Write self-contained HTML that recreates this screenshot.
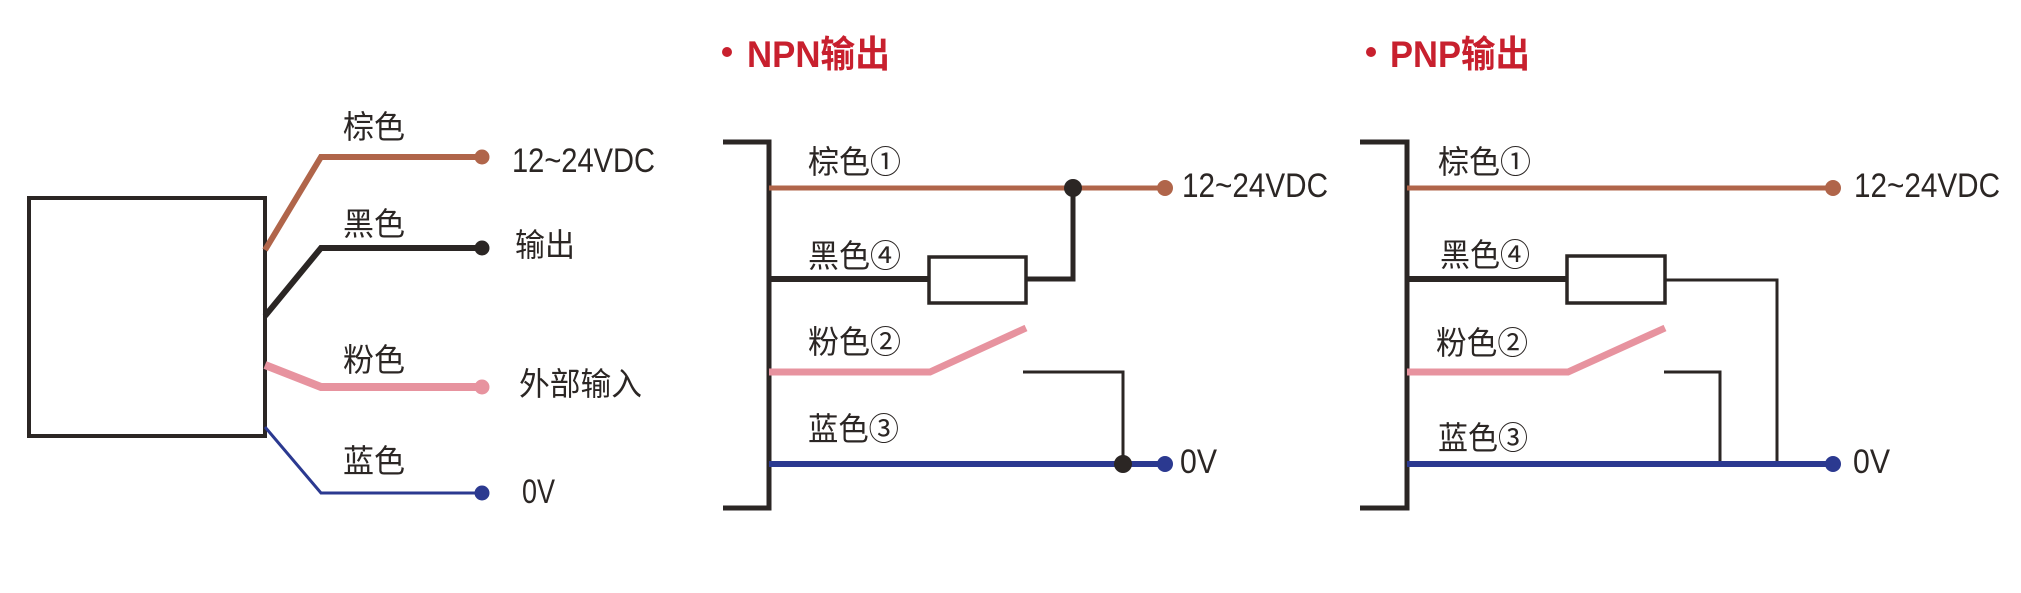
<!DOCTYPE html>
<html>
<head>
<meta charset="utf-8">
<style>
  html,body{margin:0;padding:0;background:#fff;}
  svg{display:block;}
  text{font-family:"Liberation Sans","Noto Sans CJK SC",sans-serif;fill:#2b2624;}
  .cj{font-size:32px;}
  .lt{font-size:34px;}
  .tt{font-size:37px;font-weight:bold;fill:#c8202e;}
</style>
</head>
<body>
<svg width="2021" height="593" viewBox="0 0 2021 593" xmlns="http://www.w3.org/2000/svg">
  <rect x="0" y="0" width="2021" height="593" fill="#fff"/>

  <!-- ============ LEFT DIAGRAM ============ -->
  <rect x="29" y="198" width="236" height="238" fill="#fff" stroke="#2b2624" stroke-width="4"/>
  <polyline points="265,250 321,157 482,157" fill="none" stroke="#b0654a" stroke-width="6"/>
  <circle cx="482" cy="157" r="7.5" fill="#b0654a"/>
  <polyline points="265,316 321,248 482,248" fill="none" stroke="#2b2624" stroke-width="6"/>
  <circle cx="482" cy="248" r="7.5" fill="#2b2624"/>
  <polyline points="265,365 321,387 482,387" fill="none" stroke="#e7939f" stroke-width="8"/>
  <circle cx="482" cy="387" r="7.5" fill="#e7939f"/>
  <polyline points="265,427 321,493 482,493" fill="none" stroke="#2b3990" stroke-width="3"/>
  <circle cx="482" cy="493" r="7.5" fill="#2b3990"/>

  <text class="cj" x="343" y="138" textLength="62" lengthAdjust="spacingAndGlyphs">棕色</text>
  <text class="cj" x="343" y="235" textLength="62" lengthAdjust="spacingAndGlyphs">黑色</text>
  <text class="cj" x="343" y="371" textLength="62" lengthAdjust="spacingAndGlyphs">粉色</text>
  <text class="cj" x="343" y="472" textLength="62" lengthAdjust="spacingAndGlyphs">蓝色</text>

  <text class="lt" x="512" y="172" textLength="143" lengthAdjust="spacingAndGlyphs">12~24VDC</text>
  <text class="cj" x="515" y="256" textLength="60" lengthAdjust="spacingAndGlyphs">输出</text>
  <text class="cj" x="519" y="395" textLength="123" lengthAdjust="spacingAndGlyphs">外部输入</text>
  <text class="lt" x="522" y="503" textLength="33" lengthAdjust="spacingAndGlyphs">0V</text>

  <!-- ============ NPN ============ -->
  <circle cx="727" cy="52" r="5" fill="#c8202e"/>
  <text class="tt" x="747" y="67" textLength="143" lengthAdjust="spacingAndGlyphs">NPN输出</text>

  <polyline points="723,142 769,142 769,508 723,508" fill="none" stroke="#2b2624" stroke-width="5"/>
  <!-- brown -->
  <line x1="769" y1="188" x2="1165" y2="188" stroke="#b0654a" stroke-width="5"/>
  <circle cx="1165" cy="188" r="8" fill="#b0654a"/>
  <!-- black + resistor -->
  <line x1="769" y1="279" x2="929" y2="279" stroke="#2b2624" stroke-width="6"/>
  <polyline points="1026,279 1073,279 1073,188" fill="none" stroke="#2b2624" stroke-width="5"/>
  <rect x="929" y="257" width="97" height="46" fill="#fff" stroke="#2b2624" stroke-width="3.5"/>
  <circle cx="1073" cy="188" r="9" fill="#2b2624"/>
  <!-- pink switch -->
  <polyline points="769,372 930,372 1026,328" fill="none" stroke="#e7939f" stroke-width="7"/>
  <polyline points="1023,372 1123,372 1123,464" fill="none" stroke="#2b2624" stroke-width="3"/>
  <!-- blue -->
  <line x1="769" y1="464" x2="1165" y2="464" stroke="#2b3990" stroke-width="6"/>
  <circle cx="1165" cy="464" r="8" fill="#2b3990"/>
  <circle cx="1123" cy="464" r="9" fill="#2b2624"/>

  <text class="cj" x="808" y="173" textLength="93" lengthAdjust="spacingAndGlyphs">棕色①</text>
  <text class="cj" x="808" y="267" textLength="93" lengthAdjust="spacingAndGlyphs">黑色④</text>
  <text class="cj" x="808" y="353" textLength="93" lengthAdjust="spacingAndGlyphs">粉色②</text>
  <text class="cj" x="808" y="440" textLength="91" lengthAdjust="spacingAndGlyphs">蓝色③</text>

  <text class="lt" x="1182" y="197" textLength="146" lengthAdjust="spacingAndGlyphs">12~24VDC</text>
  <text class="lt" x="1180" y="473" textLength="37" lengthAdjust="spacingAndGlyphs">0V</text>

  <!-- ============ PNP ============ -->
  <circle cx="1371" cy="52" r="5" fill="#c8202e"/>
  <text class="tt" x="1390" y="67" textLength="140" lengthAdjust="spacingAndGlyphs">PNP输出</text>

  <polyline points="1360,142 1407,142 1407,508 1360,508" fill="none" stroke="#2b2624" stroke-width="5"/>
  <!-- brown -->
  <line x1="1407" y1="188" x2="1833" y2="188" stroke="#b0654a" stroke-width="5"/>
  <circle cx="1833" cy="188" r="8" fill="#b0654a"/>
  <!-- black + resistor -->
  <line x1="1407" y1="279" x2="1567" y2="279" stroke="#2b2624" stroke-width="6"/>
  <polyline points="1665,280 1777,280 1777,464" fill="none" stroke="#2b2624" stroke-width="3"/>
  <rect x="1567" y="256" width="98" height="47" fill="#fff" stroke="#2b2624" stroke-width="3.5"/>
  <!-- pink switch -->
  <polyline points="1407,372 1568,372 1665,328" fill="none" stroke="#e7939f" stroke-width="7"/>
  <polyline points="1664,372 1720,372 1720,464" fill="none" stroke="#2b2624" stroke-width="3"/>
  <!-- blue -->
  <line x1="1407" y1="464" x2="1833" y2="464" stroke="#2b3990" stroke-width="6"/>
  <circle cx="1833" cy="464" r="8" fill="#2b3990"/>

  <text class="cj" x="1438" y="173" textLength="93" lengthAdjust="spacingAndGlyphs">棕色①</text>
  <text class="cj" x="1440" y="266" textLength="90" lengthAdjust="spacingAndGlyphs">黑色④</text>
  <text class="cj" x="1436" y="354" textLength="92" lengthAdjust="spacingAndGlyphs">粉色②</text>
  <text class="cj" x="1438" y="449" textLength="90" lengthAdjust="spacingAndGlyphs">蓝色③</text>

  <text class="lt" x="1854" y="197" textLength="146" lengthAdjust="spacingAndGlyphs">12~24VDC</text>
  <text class="lt" x="1853" y="473" textLength="37" lengthAdjust="spacingAndGlyphs">0V</text>
</svg>
</body>
</html>
